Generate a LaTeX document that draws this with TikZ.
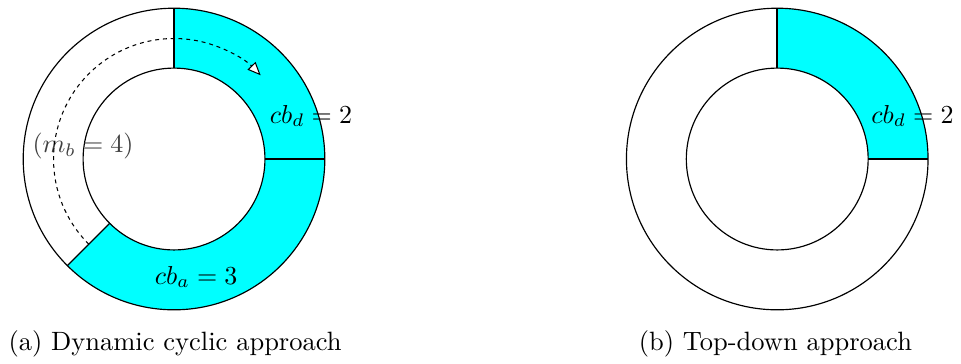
\documentclass[tikz,border=0pt]{standalone}
\usepackage{amsmath}
\usetikzlibrary{arrows.meta,positioning,calc}
\definecolor{slotcyan}{RGB}{0,255,255}

\begin{document}
\begin{tikzpicture}[
    rim/.style={draw=black, line width=0.45pt},
    seg/.style={fill=slotcyan},
    cut/.style={draw=black, line width=0.45pt},
    lbl/.style={inner sep=0pt, font=\normalsize},
    caption/.style={inner sep=0pt, anchor=base west, font=\fontsize{10.2}{12.5}\selectfont},
    walk/.style={dash pattern=on 1.5pt off 1.5pt, -{Triangle[fill=white, length=1.8mm, width=1.5mm]}}
]
\useasboundingbox (-2.354,-2.760) rectangle (10.646,2.151);
\coordinate (ca) at (0,0);
\coordinate (cb) at (8.16,0);

% (a) dynamic cyclic
\fill[seg] ($(ca)+(90:2.04)$) arc[start angle=90, end angle=-135, radius=2.04]
    -- ($(ca)+(-135:1.23)$) arc[start angle=-135, end angle=90, radius=1.23] -- cycle;
\draw[rim] (ca) circle[radius=2.04];
\draw[rim] (ca) circle[radius=1.23];
\draw[cut, thick] ($(ca)+(90:1.23)$) -- ($(ca)+(90:2.04)$);
\draw[cut] ($(ca)+(0:1.23)$) -- ($(ca)+(0:2.04)$);
\draw[cut] ($(ca)+(-135:1.23)$) -- ($(ca)+(-135:2.04)$);
\node[lbl, text=black!75] (mb) at ($(ca)+(-1.23,0.17)$) {$(m_b = 4)$};
\draw[walk] ($(ca)+(225:1.63)$) arc[start angle=225, end angle=44, radius=1.63];
\node[lbl] (cbd) at ($(ca)+(1.853,0.582)$) {$cb_d = 2$};
\node[lbl] (cba) at ($(ca)+(0.30,-1.596)$) {$cb_a = 3$};
\node[caption] (capa) at ($(ca)+(-2.246,-2.597)$) {(a)~Dynamic cyclic approach};

% (b) top-down
\fill[seg] ($(cb)+(90:2.04)$) arc[start angle=90, end angle=0, radius=2.04]
    -- ($(cb)+(0:1.23)$) arc[start angle=0, end angle=90, radius=1.23] -- cycle;
\draw[rim] (cb) circle[radius=2.04];
\draw[rim] (cb) circle[radius=1.23];
\draw[cut, thick] ($(cb)+(90:1.23)$) -- ($(cb)+(90:2.04)$);
\draw[cut] ($(cb)+(0:1.23)$) -- ($(cb)+(0:2.04)$);
\node[lbl] (cbd2) at ($(cb)+(1.83,0.582)$) {$cb_d = 2$};
\node[caption] (capb) at ($(cb)+(-1.88,-2.597)$) {(b)~Top-down approach};
\end{tikzpicture}
\end{document}
